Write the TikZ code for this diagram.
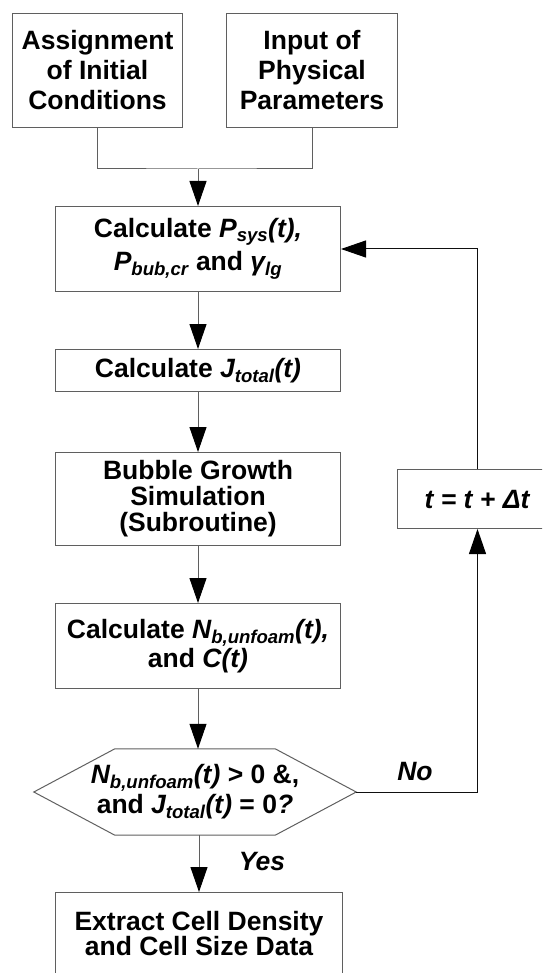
\documentclass[tikz,border=0pt]{standalone}
\usepackage{fontspec}
\setmainfont{Liberation Sans}
\usetikzlibrary{positioning,arrows.meta}
\usepackage{xcolor}
\definecolor{edgec}{RGB}{95,95,95}
\definecolor{loopc}{RGB}{15,15,15}
\newcommand{\dfont}{\fontsize{26.5}{30}\selectfont\bfseries}
\tikzset{
  box/.style={draw=edgec, line width=1pt, align=center, inner sep=0pt, font=\dfont},
  hexbox/.style={align=center, inner sep=0pt, font=\dfont},
  flow/.style={-{Triangle[length=25pt,width=17pt,color=black]}, line width=1pt, edgec},
  link/.style={line width=1pt, edgec},
  back/.style={flow, loopc},
  tag/.style={font=\dfont\itshape}
}

\begin{document}
\begin{tikzpicture}[x=1pt, y=-1pt]
  \useasboundingbox (0,0) rectangle (542,973);
  \clip (0,0) rectangle (542,973);

  \node[box, minimum width=170pt, minimum height=114pt, anchor=north west] (init) at (12,13) {Assignment\\of Initial\\Conditions};
  \node[box, minimum width=171pt, minimum height=114pt, anchor=north west] (phys) at (226,13) {Input of\\Physical\\Parameters};

  \newcommand{\colbox}[5]{
    \node[box, minimum width=285pt, minimum height=#3pt, anchor=north west, #4] (#1) at (55,#2) {#5};
  }
  \colbox{calcp}{206}{85}{font=\fontsize{26.5}{33}\selectfont\bfseries}{Calculate \textit{P\textsubscript{sys}(t),}\\\textit{P\textsubscript{bub,cr}} and \textit{γ\textsubscript{lg}}}
  \colbox{calcj}{349}{42}{}{Calculate \textit{J\textsubscript{total}(t)}}
  \colbox{bubble}{452}{93}{font=\fontsize{26.5}{26}\selectfont\bfseries}{Bubble Growth\\Simulation\\(Subroutine)}
  \colbox{calcn}{603}{85}{font=\fontsize{26.5}{29}\selectfont\bfseries}{Calculate \textit{N\textsubscript{b,unfoam}(t),}\\and \textit{C(t)}}
  \colbox{extract}{892}{82}{minimum width=287pt, font=\fontsize{26.5}{24}\selectfont\bfseries}{Extract Cell Density\\and Cell Size Data}

  \node[hexbox, minimum width=322pt, minimum height=86pt] (decide) at (195,792) {\textit{N\textsubscript{b,unfoam}(t)} > 0 \&,\\and \textit{J\textsubscript{total}(t)} = 0\textit{?}};
  \draw[edgec, line width=1pt] (decide.west) -- ([xshift=81pt]decide.north west) -- ([xshift=-81pt]decide.north east)
    -- (decide.east) -- ([xshift=-81pt]decide.south east) -- ([xshift=81pt]decide.south west) -- cycle;

  \node[box, minimum width=160pt, minimum height=59pt, anchor=north west] (step) at (397,469) {\textit{t = t + Δt}};

  \coordinate (join) at (198,169);
  \draw[link] (init.south) |- (join) -| (phys.south);
  \draw[flow] (join) -- (calcp.north);
  \draw[flow] (calcp) -- (calcj);
  \draw[flow] (calcj) -- (bubble);
  \draw[flow] (bubble) -- (calcn);
  \draw[flow] (calcn.south) -- (calcn.south |- decide.north);
  \draw[flow] (extract.north |- decide.south) -- (extract.north);
  \draw[back] (decide.east) -| (step.south);
  \draw[back] (step.north) |- (calcp.east);

  \node[tag] (no) at (415,772) {No};
  \node[tag] (yes) at (262,862) {Yes};
\end{tikzpicture}
\end{document}
